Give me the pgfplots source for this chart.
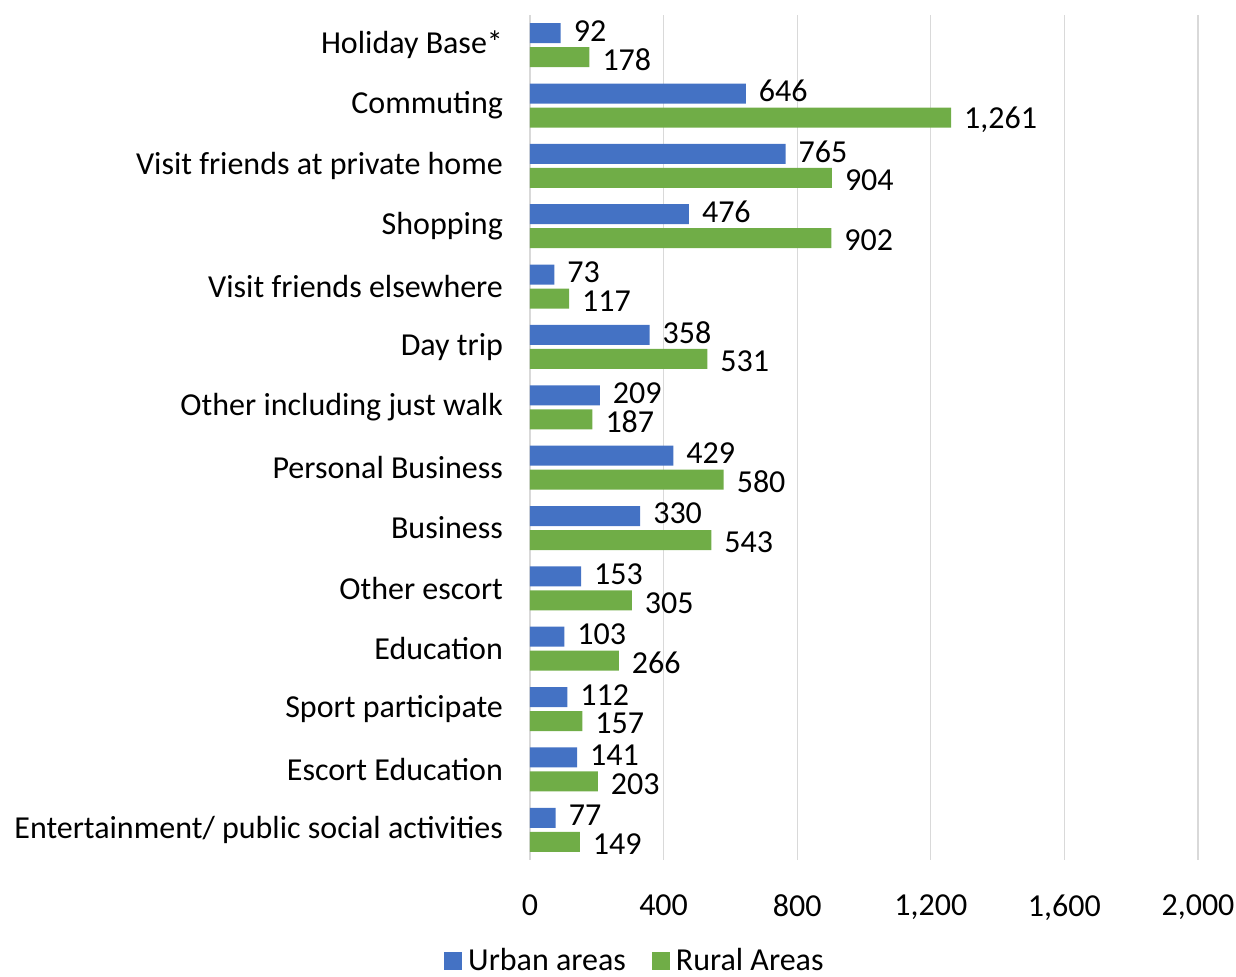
\documentclass[border=0pt]{standalone}
\usepackage{pgfplots}
\pgfplotsset{compat=1.18}
\usepackage{fontspec}
\setmainfont{Carlito}
\definecolor{cblue}{HTML}{4472C4}
\definecolor{cgreen}{HTML}{70AD47}
\definecolor{cgrid}{HTML}{D9D9D9}
\newcommand{\ff}{\fontsize{16}{19}\selectfont}
\begin{document}
\begin{tikzpicture}
\begin{axis}[
  at={(0,0)}, anchor=south west,
  scale only axis, width=334pt, height=422.5pt,
  xbar, bar width=10pt,
  xmin=0, xmax=2000,
  ymin=-0.5, ymax=13.5,
  xtick={0,400,800,1200,1600,2000},
  ytick={0,...,13},
  yticklabels={Entertainment/ public social activities, Escort Education, Sport participate, Education, Other escort, Business, Personal Business, Other including just walk, Day trip, Visit friends elsewhere, Shopping, Visit friends at private home, Commuting, Holiday Base*},
  /pgf/number format/.cd, 1000 sep={,}, assume math mode=true, /pgfplots/.cd,
  axis line style={draw=none},
  major tick length=0pt,
  xmajorgrids, grid style={cgrid, line width=0.6pt},
  tick label style={font=\ff},
  yticklabel style={xshift=-10pt},
  xticklabel style={yshift=-14pt},
  nodes near coords,
  every node near coord/.append style={font=\ff, xshift=3pt, inner ysep=0pt},
  legend style={at={(0.16,-0.119)}, anchor=center, draw=none, font=\ff, legend columns=2, inner ysep=0pt, nodes={inner xsep=3pt, inner ysep=1pt}, /tikz/every even column/.append style={column sep=10pt}},
  legend image code/.code={\fill[#1] (0pt,-4.5pt) rectangle (9pt,4.5pt);},
]
\addplot[fill=cblue, draw=none, bar shift=6pt, every node near coord/.append style={yshift=1.2pt}] coordinates {
 (77,0) (141,1) (112,2) (103,3) (153,4) (330,5) (429,6) (209,7) (358,8) (73,9) (476,10) (765,11) (646,12) (92,13)};
\addplot[fill=cgreen, draw=none, bar shift=-6pt, every node near coord/.append style={yshift=-1.2pt}] coordinates {
 (149,0) (203,1) (157,2) (266,3) (305,4) (543,5) (580,6) (187,7) (531,8) (117,9) (902,10) (904,11) (1261,12) (178,13)};
\legend{Urban areas, Rural Areas}
\end{axis}
\pgfresetboundingbox
\path[use as bounding box] (-265pt,-58.5pt) rectangle (353pt,430pt);
\end{tikzpicture}
\end{document}
